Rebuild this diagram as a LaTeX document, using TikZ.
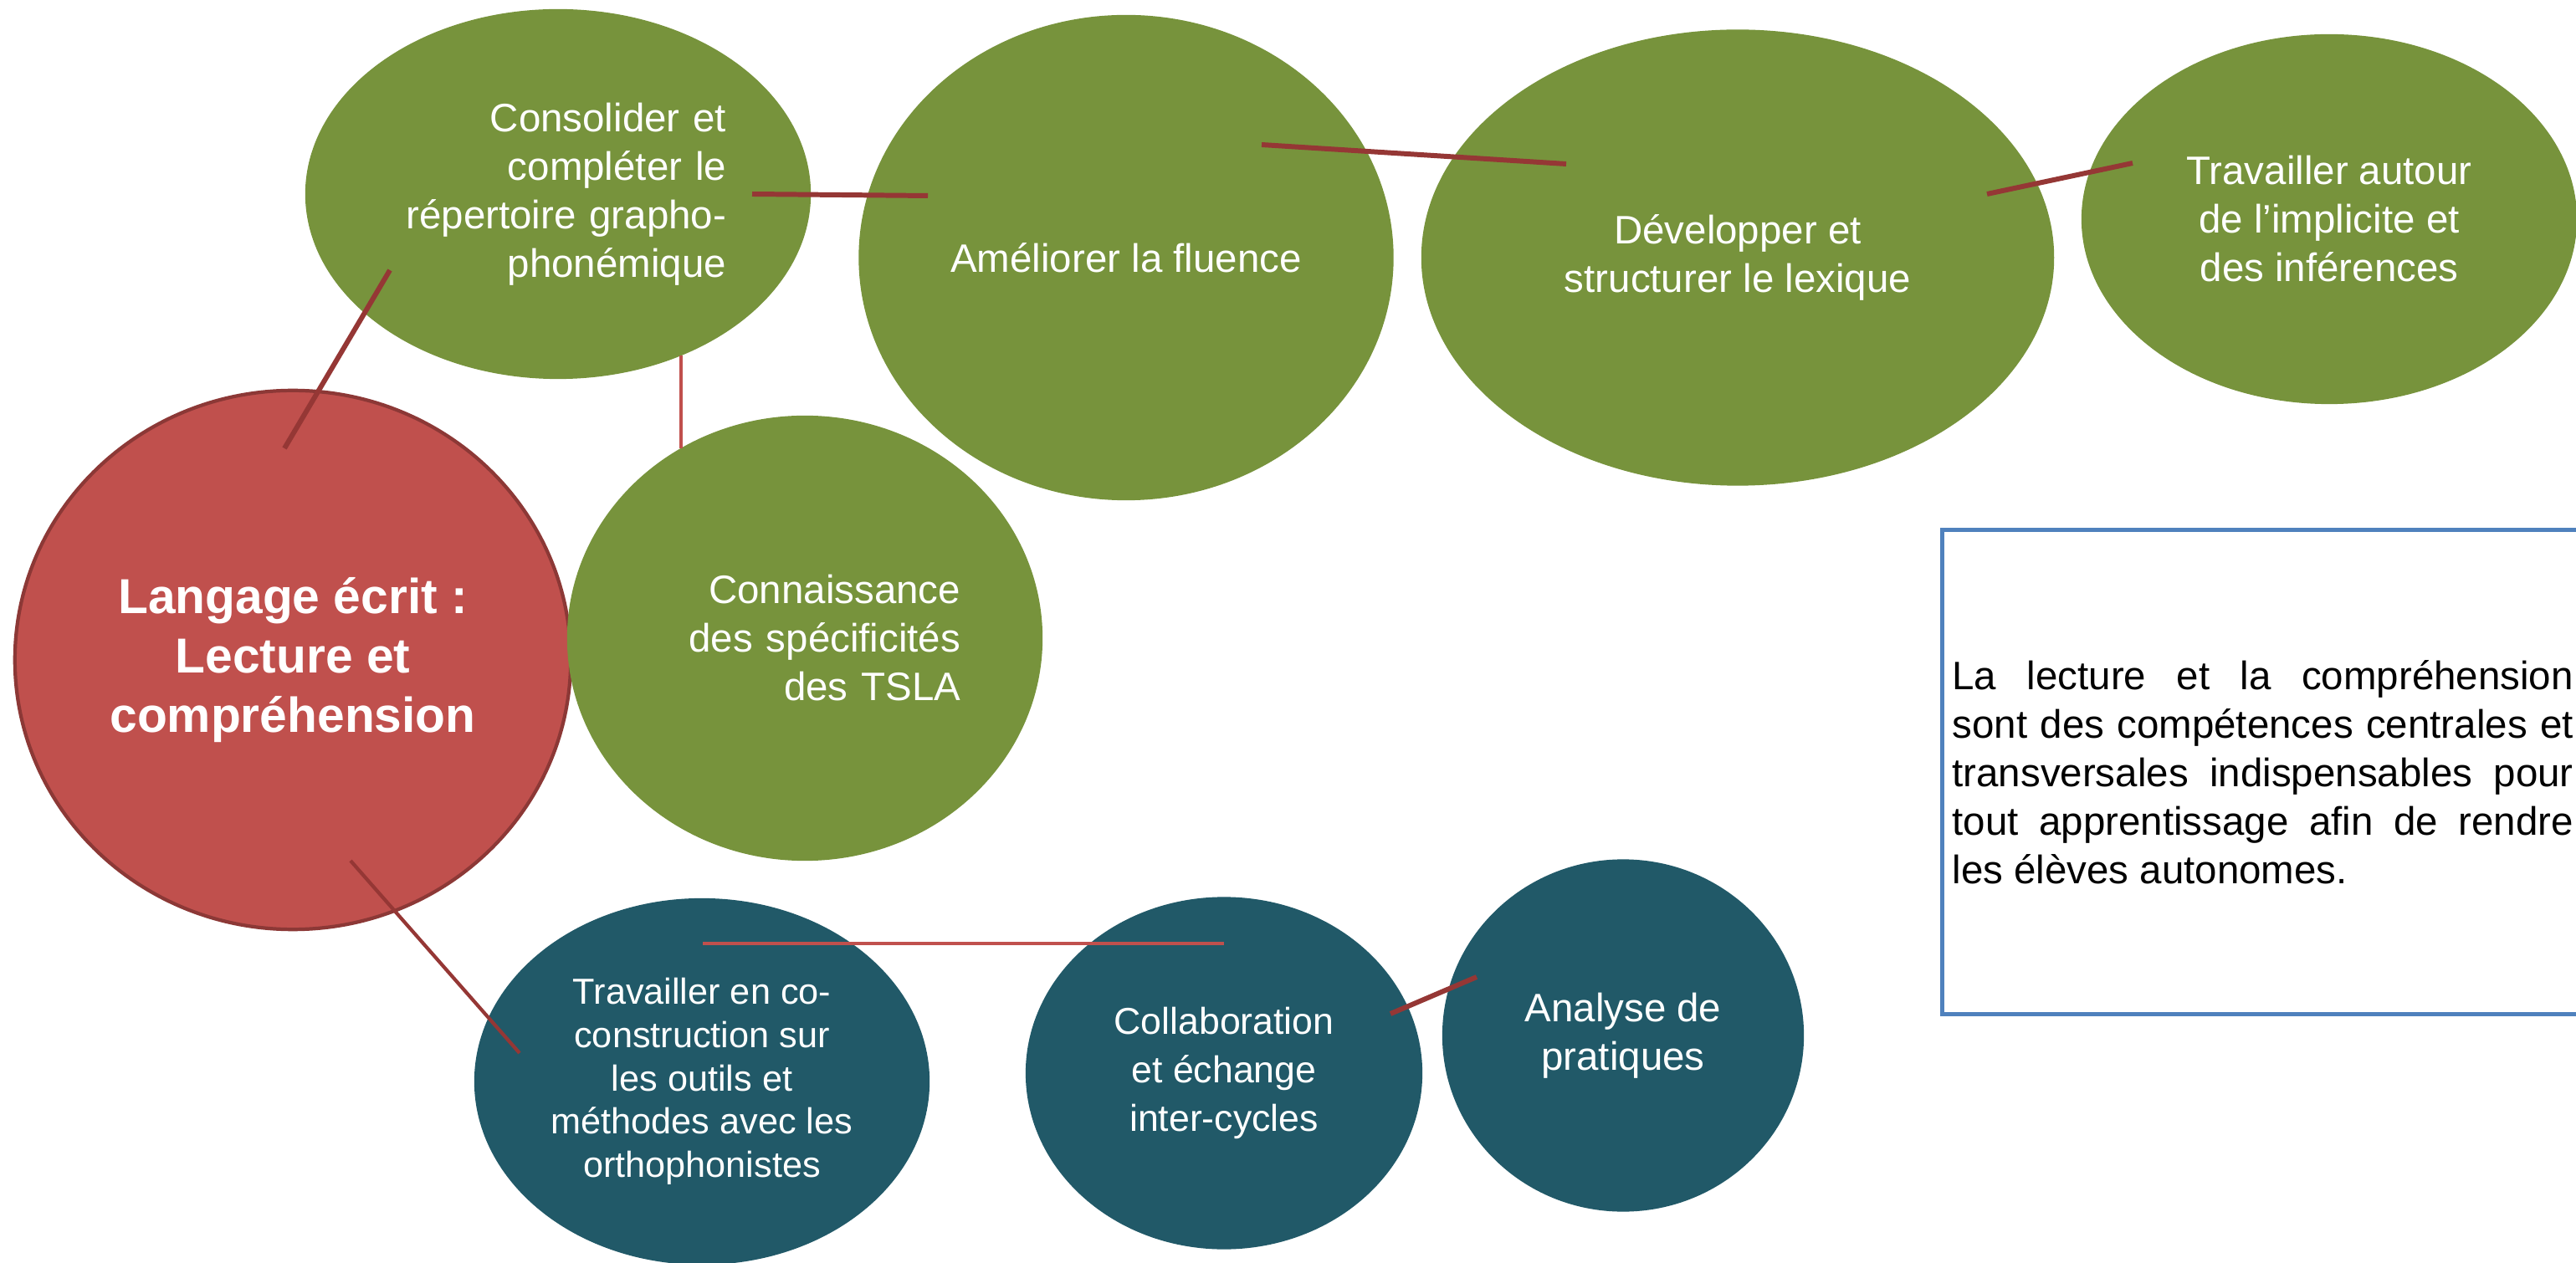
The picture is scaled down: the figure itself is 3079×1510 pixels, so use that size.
\documentclass[tikz,border=0pt]{standalone}
\usepackage{fontspec}
\setmainfont{Liberation Sans}
\usepackage{tikz}
\usetikzlibrary{shapes.geometric,positioning}
\definecolor{vert}{HTML}{77933C}
\definecolor{rouge}{HTML}{C0504D}
\definecolor{bord}{HTML}{8C3836}
\definecolor{canard}{HTML}{215968}
\definecolor{brique}{HTML}{953735}
\definecolor{cadre}{HTML}{4F81BD}
\tikzset{bulle/.style={ellipse,fill=vert,text=white,inner sep=0pt,align=center,font=\fontsize{13.5}{16.5}\selectfont},
         bulle bleue/.style={bulle,fill=canard},
         trait/.style={draw=brique,line width=1.7pt},
         fil/.style={draw=rouge,line width=1.4pt}
            }

\begin{document}
\begin{tikzpicture}[x=0.01cm,y=-0.01cm]

    \useasboundingbox (0,0) rectangle (3079,1510);

    \node[bulle,fill=rouge,draw=bord,line width=1.2pt,minimum width=6.64cm,minimum height=6.44cm,font=\bfseries\fontsize{16.7}{20.2}\selectfont] (lang) at (350,789) {Langage écrit :\\Lecture et\\compréhension};
    \node[bulle,minimum width=6.04cm,minimum height=4.42cm,text width=4.02cm,align=right] (graph) at (667,232) {Consolider et\\compléter le\\répertoire grapho-\\phonémique};
    \node[bulle,minimum width=6.39cm,minimum height=5.8cm] (flu) at (1346,308) {Améliorer la fluence};
    \node[bulle,minimum width=7.56cm,minimum height=5.45cm] (lex) at (2077,308) {Développer et\\structurer le lexique};
    \node[bulle,minimum width=5.92cm,minimum height=4.42cm] (impl) at (2784,262) {Travailler autour\\de l’implicite et\\des inférences};
    \node[bulle,minimum width=5.68cm,minimum height=5.32cm,text width=3.72cm,align=right] (tsla) at (962,763) {Connaissance\\des spécificités\\des TSLA};

    \node[bulle bleue,minimum width=5.44cm,minimum height=4.38cm,font=\fontsize{12.3}{14.7}\selectfont] (coop) at (839,1293) {Travailler en co-\\construction sur\\les outils et\\méthodes avec les\\orthophonistes};
    \node[bulle bleue,minimum width=4.74cm,minimum height=4.21cm,font=\fontsize{12.7}{16.5}\selectfont] (collab) at (1463,1283) {Collaboration\\et échange\\inter-cycles};
    \node[bulle bleue,minimum width=4.32cm,minimum height=4.21cm] (ana) at (1940,1238) {Analyse de\\pratiques};

    \node[draw=cadre,line width=1.4pt,anchor=west,text width=7.42cm,minimum height=5.78cm,inner xsep=0.12cm,align=justify,font=\fontsize{13.5}{16.5}\selectfont] (note) at (2319,923) {La lecture et la compréhension\linebreak sont des compétences centrales et\linebreak transversales indispensables pour\linebreak tout apprentissage afin de rendre\linebreak les élèves autonomes.};

    % bouts des liens
    \coordinate (a1) at (899,232);   \coordinate (a2) at (1109,234);
    \coordinate (b1) at (466,323);   \coordinate (b2) at (340,536);
    \coordinate (c1) at (814,425);   \coordinate (c2) at (814,536);
    \coordinate (d1) at (1508,173);  \coordinate (d2) at (1872,196);
    \coordinate (e1) at (2375,232);  \coordinate (e2) at (2549,195);
    \coordinate (f1) at (419,1029);  \coordinate (f2) at (621,1259);
    \coordinate (g1) at (840,1128);  \coordinate (g2) at (1463,1128);
    \coordinate (h1) at (1662,1212); \coordinate (h2) at (1765,1168);

    \path[trait]
    (a1) edge (a2)
    (b1) edge (b2)
    (d1) edge (d2)
    (e1) edge (e2)
    (f1) edge[line width=1.2pt] (f2)
    (h1) edge (h2);

    \path[fil]
    (c1) edge (c2)
    (g1) edge (g2);

\end{tikzpicture}
\end{document}
